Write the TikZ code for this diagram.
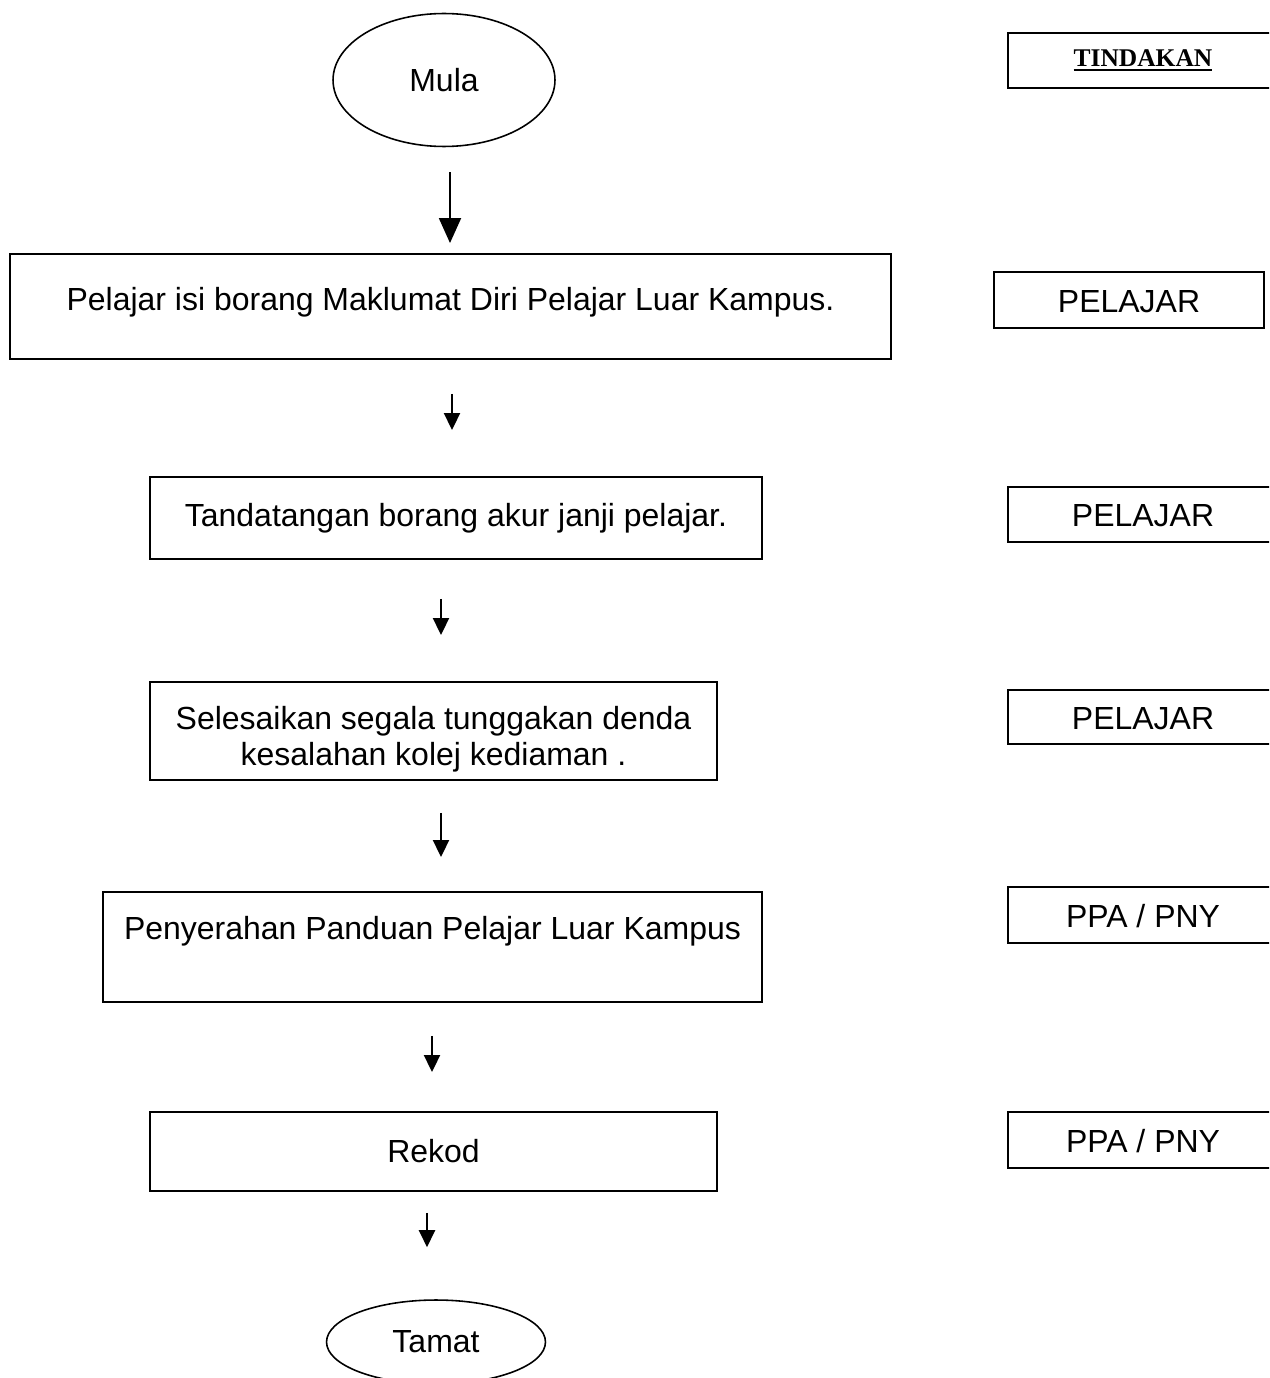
\documentclass[tikz,border=0pt]{standalone}
\usepackage{fontspec}
\setmainfont{Liberation Sans}
\newfontfamily\timesfont{Liberation Serif}
\usetikzlibrary{shapes.geometric,arrows.meta}

% thick underline for the header
\newcommand{\thickul}[1]{\setbox0\hbox{#1}\rlap{\rule[-2.6pt]{\wd0}{1.5pt}}\box0}

\begin{document}
\begin{tikzpicture}[x=0.02cm, y=-0.02cm,
    font=\fontsize{18.2}{20.5}\selectfont,
    box/.style={draw, line width=1.1pt, rectangle, align=center, inner sep=0pt},
    oval/.style={draw, line width=0.9pt, ellipse, inner sep=0pt},
    role/.style={draw, line width=1.1pt, rectangle, minimum width=5.4cm, inner sep=0pt},
    bigarr/.style={line width=1.1pt, -{Triangle[width=0.44cm, length=0.5cm]}},
    arr/.style={line width=1.1pt, -{Triangle[width=0.32cm, length=0.34cm]}}]
  \clip (0,0) rectangle (1269,1378);

  % flow
  \node[oval, minimum width=4.44cm, minimum height=2.66cm] (mula) at (444,80) {Mula};
  \node[box, minimum width=17.62cm, minimum height=2.1cm, text depth=0.3cm] (isi) at (450.5,306.5)
    {Pelajar isi borang Maklumat Diri Pelajar Luar Kampus.};
  \node[box, minimum width=12.24cm, minimum height=1.64cm] (akur) at (456,518)
    {Tandatangan borang akur janji pelajar.};
  \node[box, minimum width=11.34cm, minimum height=1.96cm] (denda) at (433.5,731)
    {\rule{0pt}{22pt}Selesaikan segala tunggakan denda\\ kesalahan kolej kediaman .};
  \node[box, minimum width=13.18cm, minimum height=2.2cm, text depth=0.77cm] (panduan) at (432.5,947)
    {Penyerahan Panduan Pelajar Luar Kampus};
  \node[box, minimum width=11.34cm, minimum height=1.58cm] (rekod) at (433.5,1151.5) {Rekod};
  \node[oval, minimum width=4.38cm, minimum height=1.68cm] (tamat) at (436,1342) {Tamat};

  % arrow columns
  \coordinate (x1) at (450,0);
  \coordinate (x2) at (452,0);
  \coordinate (x3) at (441,0);
  \coordinate (x4) at (432,0);
  \coordinate (x5) at (427,0);

  \draw[bigarr, shorten <=0.5cm, shorten >=0.2cm] (mula.south -| x1) -- (isi.north -| x1);
  \draw[arr, shorten <=0.68cm, shorten >=0.92cm] (isi.south -| x2) -- (akur.north -| x2);
  \draw[arr, shorten <=0.78cm, shorten >=0.92cm] (akur.south -| x3) -- (denda.north -| x3);
  \draw[arr, shorten <=0.64cm, shorten >=0.68cm] (denda.south -| x3) -- (panduan.north -| x3);
  \draw[arr, shorten <=0.66cm, shorten >=0.78cm] (panduan.south -| x4) -- (rekod.north -| x4);
  \draw[arr, shorten <=0.42cm, shorten >=1.04cm] (rekod.south -| x5) -- (tamat.north -| x5);

  % action column
  \node[role, minimum height=1.1cm, font=\timesfont\fontsize{14.5}{17}\selectfont\bfseries]
    (tindakan) at (1143,60.5) {\thickul{TINDAKAN}};
  \node[role, minimum height=1.12cm, text height=0.5cm] (pelajar1) at (1129,300) {PELAJAR};
  \node[role, minimum height=1.1cm, text height=0.5cm] (pelajar2) at (1143,514.5) {PELAJAR};
  \node[role, minimum height=1.08cm, text height=0.5cm] (pelajar3) at (1143,717) {PELAJAR};
  \node[role, minimum height=1.12cm, text height=0.5cm] (ppa1) at (1143,915) {PPA / PNY};
  \node[role, minimum height=1.12cm, text height=0.5cm] (ppa2) at (1143,1140) {PPA / PNY};
\end{tikzpicture}
\end{document}
